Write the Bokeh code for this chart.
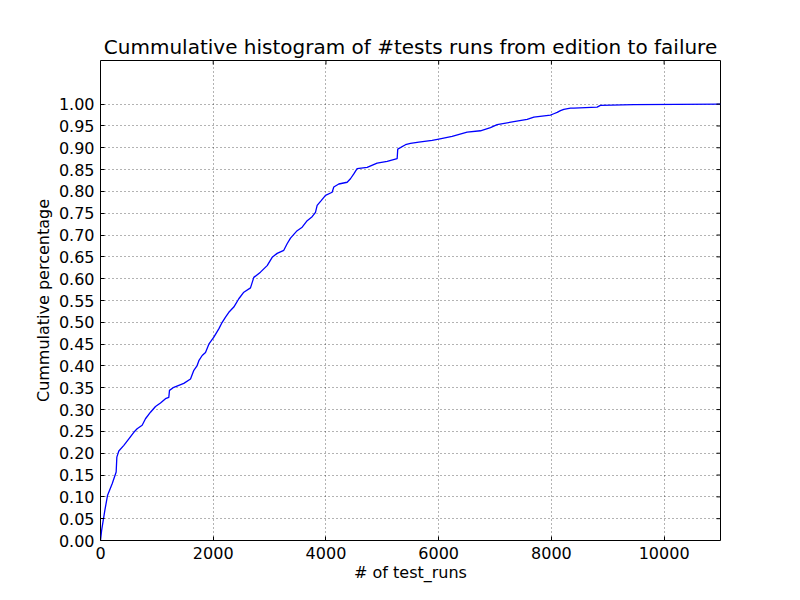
import math
from bokeh.plotting import figure
from bokeh.models import FixedTicker, Range1d, PrintfTickFormatter
from bokeh.embed import file_html
from bokeh.resources import INLINE

# cumulative curve
test_runs = [0, 20, 77, 124, 207, 278, 290, 325, 414, 503, 591, 650, 739, 798, 887, 976,
             1064, 1153, 1212, 1224, 1301, 1478, 1597, 1656, 1715, 1745, 1804, 1863, 1922,
             2011, 2099, 2159, 2218, 2277, 2365, 2454, 2543, 2661, 2720, 2838, 2957, 3046,
             3134, 3252, 3311, 3371, 3489, 3578, 3667, 3755, 3814, 3844, 3915, 3992, 4110,
             4139, 4228, 4376, 4435, 4494, 4553, 4731, 4908, 5086, 5263, 5274, 5411, 5499,
             5647, 5884, 6002, 6239, 6505, 6741, 6919, 7037, 7333, 7570, 7688, 7983, 8042,
             8102, 8161, 8220, 8338, 8397, 8811, 8870, 9461, 11000]
cum_pct = [0.0, 0.023, 0.069, 0.103, 0.130, 0.157, 0.191, 0.205, 0.218, 0.233, 0.248, 0.256,
           0.264, 0.279, 0.294, 0.307, 0.315, 0.325, 0.328, 0.344, 0.351, 0.360, 0.370, 0.390,
           0.401, 0.412, 0.424, 0.431, 0.450, 0.466, 0.485, 0.500, 0.512, 0.523, 0.535, 0.554,
           0.569, 0.579, 0.603, 0.615, 0.630, 0.649, 0.658, 0.665, 0.680, 0.693, 0.710, 0.718,
           0.733, 0.742, 0.752, 0.768, 0.779, 0.791, 0.798, 0.810, 0.817, 0.821, 0.829, 0.840,
           0.852, 0.855, 0.865, 0.869, 0.875, 0.897, 0.907, 0.910, 0.913, 0.917, 0.920, 0.926,
           0.936, 0.939, 0.946, 0.953, 0.960, 0.965, 0.970, 0.975, 0.978, 0.981, 0.985, 0.988,
           0.991, 0.991, 0.993, 0.997, 0.999, 1.000]

x_ticks = [0, 2000, 4000, 6000, 8000, 10000]
y_ticks = [round(i * 0.05, 2) for i in range(21)]
x_max = 11000
y_max = 1.1

FONT = "DejaVu Sans"

p = figure(width=784, height=584, frame_width=620, frame_height=480,
           output_backend="svg", toolbar_location=None,
           x_range=Range1d(0, x_max), y_range=Range1d(0, y_max),
           min_border_left=100, min_border_right=64, min_border_top=60, min_border_bottom=44,
           title="Cummulative histogram of #tests runs from edition to failure")
p.background_fill_color = "white"
p.border_fill_color = "white"
p.outline_line_color = "black"
p.outline_line_width = 1

p.title.align = "center"
p.title.text_font = FONT
p.title.text_font_size = "20px"
p.title.text_font_style = "normal"
p.title.text_color = "black"
p.title.standoff = 4

p.xgrid.ticker = FixedTicker(ticks=x_ticks)
p.ygrid.ticker = FixedTicker(ticks=y_ticks)
for g in (p.xgrid, p.ygrid):
    g.grid_line_color = "black"
    g.grid_line_dash = "1 3"
    g.grid_line_width = 0.6

p.line(test_runs, cum_pct, line_color="#0000ff", line_width=1.3)

p.xaxis.ticker = FixedTicker(ticks=x_ticks)
p.yaxis.ticker = FixedTicker(ticks=y_ticks)
p.yaxis.formatter = PrintfTickFormatter(format="%.2f")

for ax in p.xaxis + p.yaxis:
    ax.major_tick_in = 4
    ax.major_tick_out = 0
    ax.minor_tick_in = 0
    ax.minor_tick_out = 0
    ax.axis_line_color = None
    ax.major_tick_line_color = "black"
    ax.major_label_text_font = FONT
    ax.major_label_text_font_size = "16px"
    ax.major_label_text_color = "black"
    ax.axis_label_text_font = FONT
    ax.axis_label_text_font_size = "16px"
    ax.axis_label_text_font_style = "normal"
    ax.axis_label_text_color = "black"
    ax.major_label_standoff = 6

p.xaxis.axis_label = "# of test_runs"
p.yaxis.axis_label = "Cummulative percentage"
p.xaxis.axis_label_standoff = 1
p.yaxis.axis_label_standoff = 3

# inward ticks on the top and right edges (matplotlib classic look)
p.ray(x=x_ticks, y=[y_max] * len(x_ticks), length=4, length_units="screen",
      angle=-math.pi / 2, line_color="black", line_width=1)
p.ray(x=[x_max] * len(y_ticks), y=y_ticks, length=4, length_units="screen",
      angle=math.pi, line_color="black", line_width=1)

open("out.html", "w").write(file_html(p, INLINE))
